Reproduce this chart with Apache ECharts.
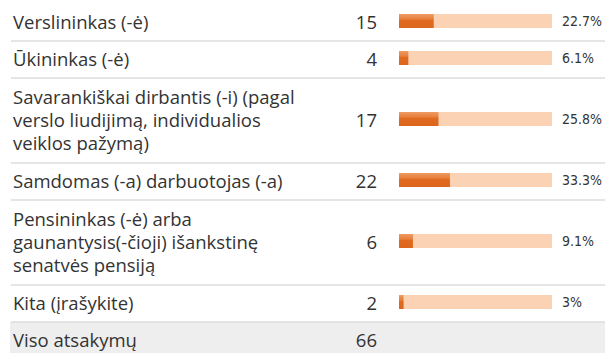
<!DOCTYPE html>
<html>
<head>
<meta charset="utf-8">
<style>
  html, body { margin: 0; padding: 0; background: #ffffff; }
  #chart { width: 605px; height: 353px; }
</style>
<script src="https://cdn.jsdelivr.net/npm/echarts@6/dist/echarts.min.js"></script>
</head>
<body>
<div id="chart"></div>
<script>
// Survey answers: occupation of respondents
const categories = [
  'Verslininkas (-ė)',
  'Ūkininkas (-ė)',
  'Savarankiškai dirbantis (-i) (pagal\nverslo liudijimą, individualios\nveiklos pažymą)',
  'Samdomas (-a) darbuotojas (-a)',
  'Pensininkas (-ė) arba\ngaunantysis(-čioji) išankstinę\nsenatvės pensiją',
  'Kita (įrašykite)'
];
const counts = [15, 4, 17, 22, 6, 2];
const percents = [22.7, 6.1, 25.8, 33.3, 9.1, 3];
const totalLabel = 'Viso atsakymų';

// Table layout
const TEXT_FONT = '"Open Sans", sans-serif';
const TEXT_COLOR = '#333333';
const TEXT_X = 13;
const TRACK_X = 399;
const TRACK_W = 153;
const COUNT_RIGHT = 377;
const PCT_X = 562;
const FIRST_TOP = 4;
const LINE_H = 23;

const rowHeights = categories.map(c => 37 + 24 * (c.split('\n').length - 1));
const rowTops = [];
rowHeights.reduce((y, h) => { rowTops.push(y); return y + h; }, FIRST_TOP);
const totalTop = rowTops[rowTops.length - 1] + rowHeights[rowHeights.length - 1];

const barFill = new echarts.graphic.LinearGradient(0, 0, 0, 1, [
  { offset: 0, color: '#ee9c63' },
  { offset: 0.38, color: '#e67d39' },
  { offset: 0.46, color: '#e06b20' },
  { offset: 1, color: '#dc661b' }
]);

const grid = [], xAxis = [], yAxis = [], series = [];
categories.forEach((name, i) => {
  grid.push({
    left: TRACK_X, width: TRACK_W,
    top: rowTops[i], height: rowHeights[i] - 3,
    outerBoundsMode: 'none'
  });
  xAxis.push({ gridIndex: i, type: 'value', min: 0, max: 100, show: false });
  const hidden = { axisLine: { show: false }, axisTick: { show: false }, splitLine: { show: false } };
  // answer text
  yAxis.push(Object.assign({
    gridIndex: i, type: 'category', data: [name], position: 'left',
    axisLabel: {
      align: 'left', margin: TRACK_X - TEXT_X, lineHeight: LINE_H,
      fontFamily: TEXT_FONT, fontSize: 18.5, color: TEXT_COLOR
    }
  }, hidden));
  // response count
  yAxis.push(Object.assign({
    gridIndex: i, type: 'category', data: [String(counts[i])], position: 'left',
    axisLabel: {
      align: 'right', margin: TRACK_X - COUNT_RIGHT,
      fontFamily: TEXT_FONT, fontSize: 18.5, color: TEXT_COLOR
    }
  }, hidden));
  // share of all responses
  yAxis.push(Object.assign({
    gridIndex: i, type: 'category', data: [percents[i] + '%'], position: 'right',
    axisLabel: {
      align: 'left', margin: PCT_X - TRACK_X - TRACK_W,
      fontFamily: '"DejaVu Sans Condensed", "DejaVu Sans", sans-serif',
      fontSize: 14, color: TEXT_COLOR
    }
  }, hidden));
  series.push({
    type: 'bar', xAxisIndex: i, yAxisIndex: i * 3,
    data: [percents[i]], barWidth: 14, silent: true,
    showBackground: true,
    backgroundStyle: { color: '#fbd2b4' },
    itemStyle: { color: barFill }
  });
});

// row separators and the totals row
const graphic = [{
  type: 'rect', silent: true, z: -1,
  shape: { x: 10, y: totalTop, width: 605, height: 353 - totalTop + 5 },
  style: { fill: '#eeeeee' }
}];
rowTops.slice(1).concat([totalTop]).forEach(y => {
  graphic.push({
    type: 'line', silent: true,
    shape: { x1: 11, y1: y, x2: 605, y2: y },
    style: { stroke: '#dddddd', lineWidth: 1.5 }
  });
});
const totalY = totalTop + 17;
graphic.push({
  type: 'text', silent: true, x: TEXT_X, y: totalY,
  style: { text: totalLabel, font: '18.5px ' + TEXT_FONT, fill: TEXT_COLOR, verticalAlign: 'middle', align: 'left' }
});
graphic.push({
  type: 'text', silent: true, x: COUNT_RIGHT, y: totalY,
  style: { text: String(counts.reduce((a, b) => a + b, 0)), font: '18.5px ' + TEXT_FONT, fill: TEXT_COLOR, verticalAlign: 'middle', align: 'right' }
});

const chart = echarts.init(document.getElementById('chart'), null, { renderer: 'svg' });
chart.setOption({
  animation: false,
  grid, xAxis, yAxis, series, graphic
});
</script>
</body>
</html>
